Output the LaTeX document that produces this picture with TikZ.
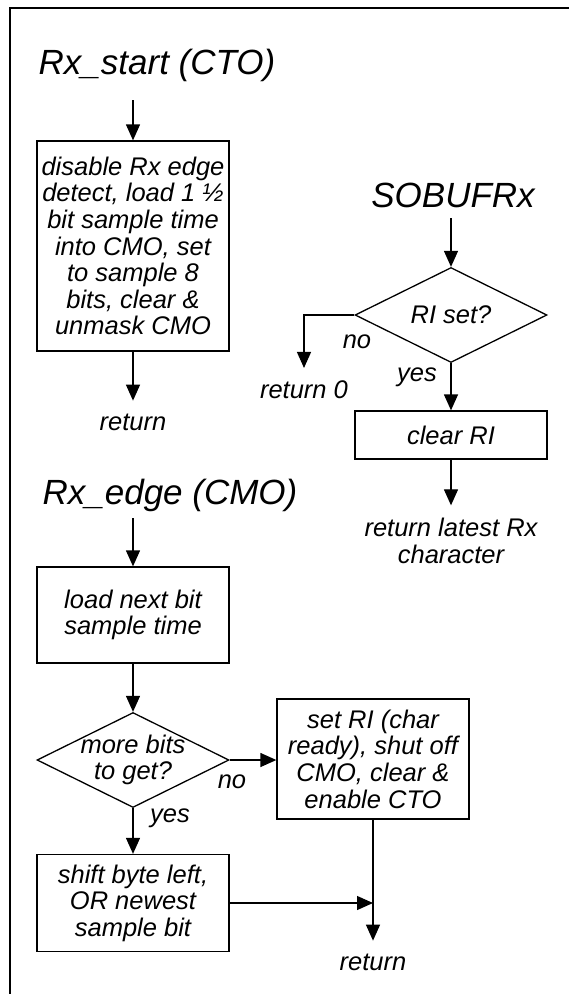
\documentclass[tikz,border=0pt]{standalone}
\usepackage{fontspec}
\setmainfont{Liberation Sans}
\usetikzlibrary{arrows.meta,shapes.geometric}
\newcommand\bodyfont{\fontsize{25.5}{26.6}\selectfont\itshape}
\newcommand\headfont{\fontsize{35}{38}\selectfont\itshape}
\begin{document}
\begin{tikzpicture}[x=1pt,y=-1pt,
    proc/.style={draw, line width=1.3pt, minimum width=192pt, inner sep=0pt, align=center, font=\bodyfont},
    decision/.style={diamond, draw, line width=1.3pt, minimum width=192pt, minimum height=95pt, inner sep=0pt},
    lbl/.style={font=\bodyfont, inner sep=0pt, align=center},
    retlabel/.style={font=\bodyfont, inner sep=0pt, outer ysep=13pt, align=center},
    head/.style={font=\headfont, inner sep=0pt},
    arr/.style={line width=1.3pt, -{Triangle[width=14pt,length=16pt]}}]
    \useasboundingbox (0,0) rectangle (569,994);
    \draw[line width=2.5pt] (569,8) -- (10,8) -- (10,994);
    % Rx_start
    \node[head] (start) at (157,65) {Rx\_start (CTO)};
    \coordinate (s1) at (133,100);
    \node[proc, minimum height=210pt] (setup) at (133,246) {disable Rx edge\\detect, load 1 ½\\bit sample time\\into CMO, set\\to sample 8\\bits, clear \&\\unmask CMO};
    \node[retlabel] (ret1) at (133,422) {return};
    \draw[arr] (s1) -- (setup);
    \draw[arr] (setup) -- (ret1);
    % SOBUFRx
    \node[head] (sobuf) at (453,195) {SOBUFRx};
    \coordinate (s2) at (451,218);
    \node[decision, label={[lbl]center:RI set?}] (riset) at (451,315) {};
    \node[retlabel] (ret0) at (304,390) {return 0};
    \node[proc, minimum height=48pt] (clrri) at (451,435) {clear RI};
    \node[retlabel] (ret2) at (451,541) {return latest Rx\\character};
    \draw[arr] (s2) -- (riset);
    \draw[arr] (riset.west) -| (ret0);
    \draw[arr] (riset) -- (clrri);
    \draw[arr] (clrri) -- (ret2);
    \node[lbl] (no1) at (357,342) {no};
    \node[lbl] (yes1) at (417,377) {yes};
    % Rx_edge
    \node[head] (edge) at (170,495) {Rx\_edge (CMO)};
    \coordinate (s3) at (133,518);
    \node[proc, minimum height=96pt] (load) at (133,615) {load next bit\\sample time};
    \node[decision, label={[lbl]center:more bits\\to get?}] (more) at (133,760) {};
    \node[proc, minimum height=120pt] (done) at (373,759) {set RI (char\\ready), shut off\\CMO, clear \&\\enable CTO};
    \node[proc, minimum height=97pt] (shift) at (133,903) {shift byte left,\\OR newest\\sample bit};
    \node[retlabel] (ret3) at (373,962) {return};
    \draw[arr] (s3) -- (load);
    \draw[arr] (load) -- (more);
    \draw[arr] (more.east) -- (done.west |- more.east);
    \draw[arr] (more) -- (shift);
    \draw[arr] (done) -- (ret3);
    \draw[arr] (shift.east) -- (shift.east -| done.south);
    \node[lbl] (no2) at (232,782) {no};
    \node[lbl] (yes2) at (170,818) {yes};
\end{tikzpicture}
\end{document}
